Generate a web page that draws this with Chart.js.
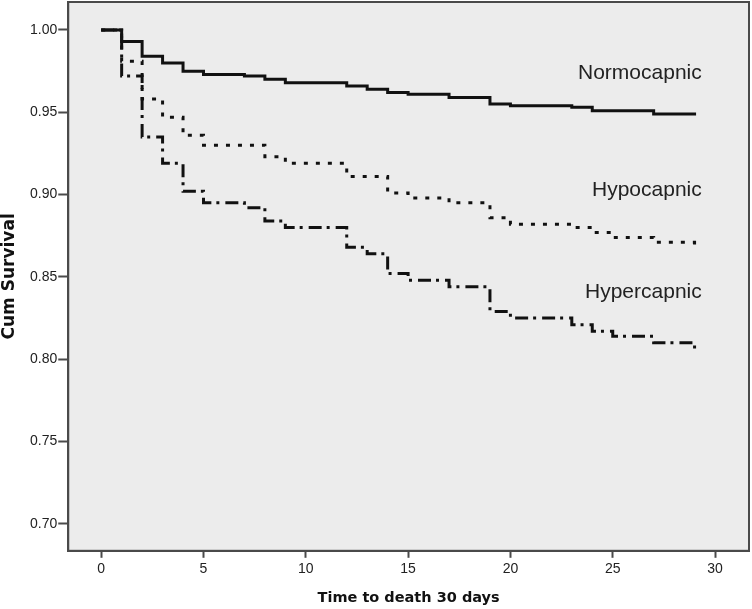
<!DOCTYPE html>
<html>
<head>
<meta charset="utf-8">
<script src="https://cdn.jsdelivr.net/npm/chart.js@4/dist/chart.umd.min.js"></script>
<style>
  html, body { margin: 0; padding: 0; background: #fff; }
  #wrap { width: 752px; height: 609px; }
</style>
</head>
<body>
<div id="wrap"><canvas id="chart-km"></canvas></div>
<script>
  // Kaplan-Meier estimates (day, cumulative survival)
  const normTimes = [0, 1, 2, 3, 4, 5, 7, 8, 9, 12, 13, 14, 15, 17, 19, 20, 23, 24, 25, 27, 29];
  const normSurv  = [1.000, 0.993, 0.984, 0.980, 0.975, 0.973, 0.972, 0.970, 0.968, 0.966, 0.964, 0.962, 0.961, 0.959, 0.955, 0.954, 0.953, 0.951, 0.951, 0.949, 0.948];

  const hypoTimes = [0, 1, 2, 3, 4, 5, 8, 9, 12, 14, 15, 17, 19, 20, 23, 24, 25, 27, 29];
  const hypoSurv  = [1.000, 0.981, 0.958, 0.947, 0.936, 0.930, 0.923, 0.919, 0.911, 0.901, 0.898, 0.895, 0.886, 0.882, 0.880, 0.877, 0.874, 0.871, 0.867];

  const hyperTimes = [0, 1, 2, 3, 4, 5, 7, 8, 9, 12, 13, 14, 15, 17, 19, 20, 23, 24, 25, 27, 29];
  const hyperSurv  = [1.000, 0.972, 0.935, 0.919, 0.902, 0.895, 0.892, 0.884, 0.880, 0.868, 0.864, 0.852, 0.848, 0.844, 0.829, 0.825, 0.821, 0.817, 0.814, 0.810, 0.803];

  const xTicks = [0, 5, 10, 15, 20, 25, 30];
  const yTicks = [0.70, 0.75, 0.80, 0.85, 0.90, 0.95, 1.00];

  const groupNames = ['Normocapnic', 'Hypocapnic', 'Hypercapnic'];
  const groupLabelAt = [[29.35, 0.9738], [29.35, 0.9027], [29.35, 0.8406]];

  const COLORS = {
    line: '#111111', axis: '#4a4a4a', text: '#222222', panel: '#ececec',
  };
  const FONT = "'Liberation Sans', Arial, sans-serif";
  const TITLE_FONT = "'DejaVu Sans', sans-serif";

  const toPoints = (ts, ss) => ts.map((t, i) => ({ x: t, y: ss[i] }));

  const panelPlugin = {
    id: 'panel',
    beforeDraw(chart) {
      const { ctx, chartArea: a } = chart;
      ctx.save();
      ctx.fillStyle = COLORS.panel;
      ctx.fillRect(a.left, a.top, a.right - a.left, a.bottom - a.top);
      ctx.restore();
    },
    afterDraw(chart) {
      const { ctx, chartArea: a, scales } = chart;
      ctx.save();
      ctx.strokeStyle = COLORS.axis;
      ctx.lineWidth = 2;
      ctx.strokeRect(a.left, a.top, a.right - a.left, a.bottom - a.top);
      // group labels
      ctx.fillStyle = COLORS.text;
      ctx.font = `21px ${FONT}`;
      ctx.textAlign = 'right';
      ctx.textBaseline = 'middle';
      groupNames.forEach((name, i) => {
        const [gx, gy] = groupLabelAt[i];
        ctx.fillText(name, scales.x.getPixelForValue(gx), scales.y.getPixelForValue(gy));
      });
      ctx.restore();
    },
  };

  const baseSet = {
    stepped: 'before', pointRadius: 0, borderWidth: 3, borderColor: COLORS.line,
    borderCapStyle: 'butt', borderJoinStyle: 'miter', fill: false,
  };

  new Chart(document.getElementById('chart-km'), {
    type: 'line',
    data: {
      datasets: [
        { ...baseSet, label: groupNames[0], data: toPoints(normTimes, normSurv) },
        { ...baseSet, label: groupNames[1], data: toPoints(hypoTimes, hypoSurv), borderDash: [4, 8] },
        { ...baseSet, label: groupNames[2], data: toPoints(hyperTimes, hyperSurv), borderDash: [13, 5, 3, 6] },
      ],
    },
    options: {
      responsive: true, maintainAspectRatio: false, animation: false,
      layout: { padding: { top: 2, right: 3, bottom: 0, left: 0 } },
      plugins: { legend: { display: false }, tooltip: { enabled: false } },
      scales: {
        x: {
          type: 'linear', min: -1.61, max: 31.66,
          afterBuildTicks: (s) => { s.ticks = xTicks.map(v => ({ value: v })); },
          grid: { drawOnChartArea: false, tickLength: 7, tickColor: COLORS.axis, tickWidth: 2 },
          border: { color: COLORS.axis, width: 2 },
          ticks: { color: COLORS.text, padding: 3, maxRotation: 0, font: { family: FONT, size: 14 } },
          title: {
            display: true, text: 'Time to death 30 days', color: '#111',
            font: { family: TITLE_FONT, size: 14.5, weight: 'bold' }, padding: { top: 9, bottom: 2 },
          },
        },
        y: {
          type: 'linear', min: 0.6836, max: 1.017,
          afterBuildTicks: (s) => { s.ticks = yTicks.map(v => ({ value: v })); },
          afterFit: (s) => { s.paddingTop = 0; s.paddingBottom = 0; },
          grid: { drawOnChartArea: false, tickLength: 10, tickColor: COLORS.axis, tickWidth: 2 },
          border: { color: COLORS.axis, width: 2 },
          ticks: {
            color: COLORS.text, padding: 1, font: { family: FONT, size: 14 },
            callback: (v) => Number(v).toFixed(2),
          },
          title: {
            display: true, text: 'Cum Survival', color: '#111',
            font: { family: TITLE_FONT, size: 17, weight: 'bold' }, padding: { top: -1, bottom: 9.6 },
          },
        },
      },
    },
    plugins: [panelPlugin],
  });
</script>
</body>
</html>
